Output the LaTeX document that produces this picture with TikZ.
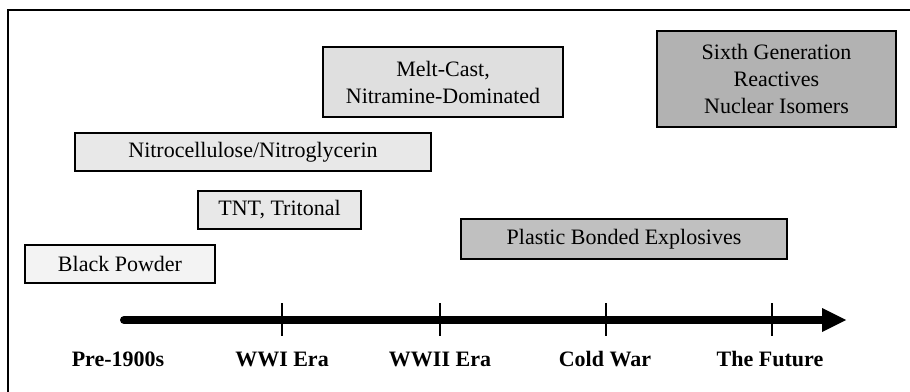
\documentclass[tikz,border=0pt]{standalone}
\usepackage{fontspec}
\setmainfont{Liberation Serif}
\definecolor{fa}{HTML}{F3F3F3}
\definecolor{fb}{HTML}{E8E8E8}
\definecolor{fc}{HTML}{DFDFDF}
\definecolor{fd}{HTML}{C0C0C0}
\definecolor{fe}{HTML}{B2B2B2}
\begin{document}
\begin{tikzpicture}[x=1pt,y=-1pt,
  era/.style={draw=black,line width=2pt,inner sep=0pt,align=center,
    font=\fontsize{22}{27}\selectfont},
  lab/.style={font=\fontsize{22}{27}\selectfont\bfseries,inner sep=0pt},
  tick/.style={line width=1.6pt}]
\useasboundingbox (0,0) rectangle (910,391);
\fill[white] (0,0) rectangle (910,391);
\draw[line width=2pt] (8,400) -- (8,10) -- (920,10);
% boxes
\node[era,fill=fa,minimum width=190pt,minimum height=38pt] (bp) at (120,264) {Black Powder};
\node[era,fill=fb,minimum width=163pt,minimum height=38pt] (tnt) at (279.5,210) {TNT, Tritonal};
\node[era,fill=fb,minimum width=356pt,minimum height=38pt] (nc) at (253,152) {Nitrocellulose/Nitroglycerin};
\node[era,fill=fc,minimum width=240pt,minimum height=70pt] (mc) at (443,82) {Melt-Cast,\\Nitramine-Dominated};
\node[era,fill=fe,minimum width=239pt,minimum height=96pt] (sg) at (776.5,79) {Sixth Generation\\Reactives\\Nuclear Isomers};
\node[era,fill=fd,minimum width=326pt,minimum height=40pt] (pbx) at (624,239) {Plastic Bonded Explosives};
% axis
\coordinate (a0) at (124,320);
\coordinate (a1) at (824,320);
\draw[line width=8pt,line cap=round] (a0) -- (a1);
\fill (822,308) -- (846,320) -- (822,332) -- cycle;
\foreach \x/\n in {282/t1,440/t2,606/t3,772/t4}{
  \draw[tick] (\x,303) -- (\x,336);
}
% labels
\node[lab,anchor=base] (l0) at (118,366) {Pre-1900s};
\node[lab,anchor=base] (l1) at (282,366) {WWI Era};
\node[lab,anchor=base] (l2) at (440,366) {WWII Era};
\node[lab,anchor=base] (l3) at (605,366) {Cold War};
\node[lab,anchor=base] (l4) at (770,366) {The Future};
\end{tikzpicture}
\end{document}
